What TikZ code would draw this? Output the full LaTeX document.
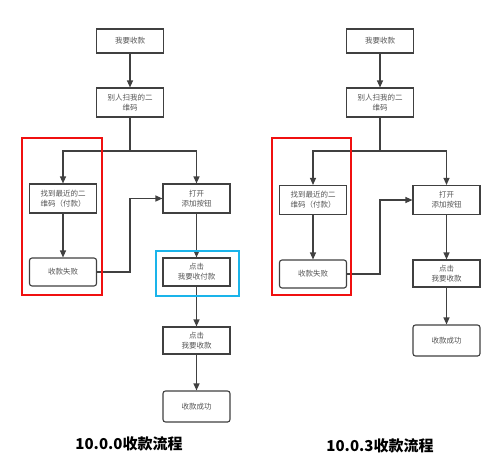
\documentclass[tikz,border=0pt]{standalone}
\usepackage{fontspec}
\newfontfamily\cjk{Noto Sans CJK SC}
\usetikzlibrary{arrows.meta}
\definecolor{boxline}{HTML}{404040}
\definecolor{boxtext}{HTML}{555555}
\definecolor{markred}{HTML}{F01010}
\definecolor{markblue}{HTML}{1AB4EA}
\tikzset{
  step box/.style={draw=boxline, line width=1.1pt, fill=white, minimum width=67pt,
    align=center, font=\cjk\fontsize{7.5}{10}\selectfont, text=boxtext, inner sep=1pt},
  end box/.style={step box, rounded corners=2.5pt},
  flow/.style={draw=boxline, line width=1.1pt, -{Triangle[length=7pt, width=6pt]}},
  highlight/.style={line width=2.8pt}
}
\begin{document}
\begin{tikzpicture}[x=1pt, y=-1pt]
  \useasboundingbox (0,0) rectangle (500,458);

  % left: 10.0.0
  \coordinate (A1) at (130, 41);
  \coordinate (A2) at (130, 102.5);
  \coordinate (A3) at (63, 198.5);
  \coordinate (A4) at (196.5, 198.5);
  \coordinate (A5) at (63, 272);
  \coordinate (A6) at (196.5, 272);
  \coordinate (A7) at (196.5, 340.5);
  \coordinate (A8) at (196.5, 406.5);

  \node[step box, minimum height=24pt] (a1) at (A1) {我要收款};
  \node[step box, minimum height=29pt] (a2) at (A2) {别人扫我的二\\维码};
  \node[step box, minimum height=29pt] (a3) at (A3) {找到最近的二\\维码（付款）};
  \node[step box, minimum height=29pt] (a4) at (A4) {打开\\添加按钮};
  \node[end box, minimum height=28pt] (a5) at (A5) {收款失败};
  \node[step box, minimum height=28pt] (a6) at (A6) {点击\\我要收付款};
  \node[step box, minimum height=27pt] (a7) at (A7) {点击\\我要收款};
  \node[end box, minimum height=31pt] (a8) at (A8) {收款成功};
  \coordinate (asplit) at (130, 151);
  \coordinate (aloop) at (130, 272);

  \draw[flow] (a1) -- (a2);
  \draw[draw=boxline, line width=1.1pt] (a2) -- (asplit);
  \draw[flow] (asplit) -| (a3);
  \draw[flow] (asplit) -| (a4);
  \draw[flow] (a3) -- (a5);
  \draw[flow] (a5) -- (aloop) |- (a4.west);
  \draw[flow] (a4) -- (a6);
  \draw[flow] (a6) -- (a7);
  \draw[flow] (a7) -- (a8);

  \draw[highlight, draw=markred] (22,138) rectangle (102,295);
  \draw[highlight, draw=markblue] (156,251) rectangle (239,296);
  \node (atitle) at (129,444) {\cjk\bfseries\fontsize{15}{18}\selectfont 10.0.0收款流程};

  % right: 10.0.3
  \coordinate (B1) at (380, 41);
  \coordinate (B2) at (380, 102.5);
  \coordinate (B3) at (313, 200);
  \coordinate (B4) at (446.5, 200);
  \coordinate (B5) at (313, 274);
  \coordinate (B6) at (446.5, 273.5);
  \coordinate (B7) at (446.5, 340.5);

  \node[step box, minimum height=24pt] (b1) at (B1) {我要收款};
  \node[step box, minimum height=29pt] (b2) at (B2) {别人扫我的二\\维码};
  \node[step box, minimum height=29pt] (b3) at (B3) {找到最近的二\\维码（付款）};
  \node[step box, minimum height=29pt] (b4) at (B4) {打开\\添加按钮};
  \node[end box, minimum height=28pt] (b5) at (B5) {收款失败};
  \node[step box, minimum height=27pt] (b6) at (B6) {点击\\我要收款};
  \node[end box, minimum height=31pt] (b7) at (B7) {收款成功};
  \coordinate (bsplit) at (380, 151);
  \coordinate (bloop) at (380, 274);

  \draw[flow] (b1) -- (b2);
  \draw[draw=boxline, line width=1.1pt] (b2) -- (bsplit);
  \draw[flow] (bsplit) -| (b3);
  \draw[flow] (bsplit) -| (b4);
  \draw[flow] (b3) -- (b5);
  \draw[flow] (b5) -- (bloop) |- (b4.west);
  \draw[flow] (b4) -- (b6);
  \draw[flow] (b6) -- (b7);

  \draw[highlight, draw=markred] (272,138) rectangle (351,295);
  \node (btitle) at (380,446) {\cjk\bfseries\fontsize{15}{18}\selectfont 10.0.3收款流程};
\end{tikzpicture}
\end{document}
